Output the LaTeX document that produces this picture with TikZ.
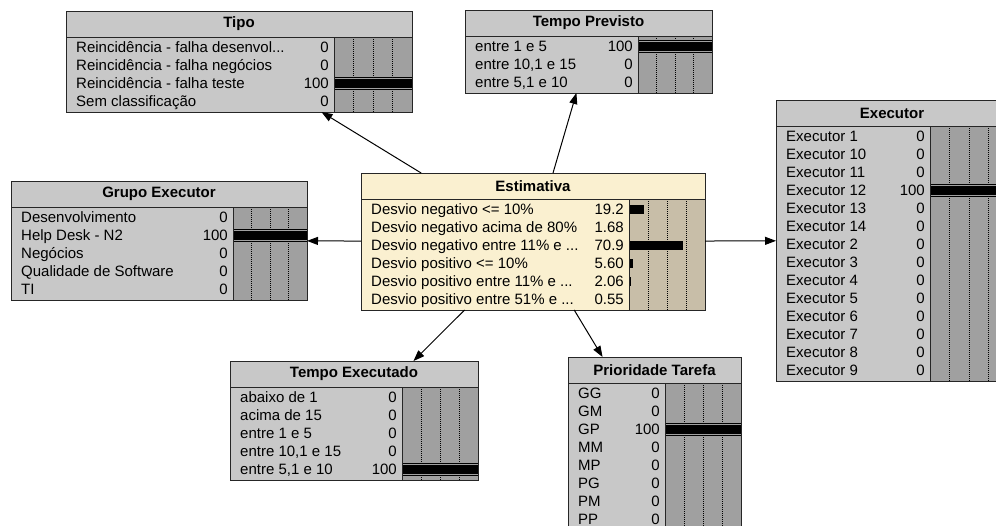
\documentclass[tikz,border=0pt]{standalone}
\usepackage{fontspec}
\setmainfont{Liberation Sans}
\usetikzlibrary{arrows.meta}
\definecolor{greybox}{RGB}{200,200,200}
\definecolor{greybar}{RGB}{160,160,160}
\definecolor{creambox}{RGB}{250,240,208}
\definecolor{creambar}{RGB}{200,190,168}
\tikzstyle{arrow} = [line width=1pt, -{Triangle[length=11pt,width=8pt]}]
\tikzset{
  netbox/.style={draw=black!85, line width=1pt, inner sep=0pt, outer sep=0pt},
  frame/.style={draw=black!85, line width=1pt},
  rowtext/.style={anchor=base west, inner sep=0pt, font=\fontsize{15}{18}\selectfont},
  rowval/.style={anchor=base east, inner sep=0pt, font=\fontsize{15}{18}\selectfont},
  boxtitle/.style={inner sep=0pt, font=\bfseries\fontsize{15}{18}\selectfont},
  gridline/.style={black, line width=0.6pt, dash pattern=on 1pt off 1pt},
}

% #1 name, #2 palette, #3 left, #4 top, #5 right, #6 divider, #7 rows, #8 title, #9 states
\newcommand{\netnode}[9]{
  \pgfmathsetmacro{\boxbot}{#4+29+18*#7}
  \pgfmathsetmacro{\boxw}{#5-#3}
  \pgfmathsetmacro{\boxh}{\boxbot-#4}
  \node[netbox, fill=#2box, minimum width=\boxw pt, minimum height=\boxh pt]
    (#1) at ({(#3+#5)/2},{(#4+\boxbot)/2}) {};
  \fill[#2bar] (#6,#4+26) rectangle (#5,\boxbot);
  \foreach \gl in {1,2,3}
    \draw[gridline] ({#6+\gl*(#5-#6)/4},#4+26) -- ({#6+\gl*(#5-#6)/4},\boxbot);
  \foreach \stname/\stval/\stpct [count=\i] in {#9} {
    \pgfmathsetmacro{\yc}{#4+26+18*(\i-0.5)+1}
    \node[rowtext] at (#3+10,\yc+5) {\stname};
    \node[rowval] at (#6-5,\yc+5) {\stval};
    \pgfmathparse{int(\stpct>99)}
    \ifnum\pgfmathresult=1
      \fill (#6,\yc-6.5) rectangle (#5,\yc+6.5);
      \fill[#2bar] (#6,\yc-5.5) rectangle (#5,\yc+5.5);
    \fi
    \pgfmathparse{int(\stpct>0)}
    \ifnum\pgfmathresult=1
      \fill (#6,\yc-4.5) rectangle ({#6+\stpct*(#5-#6)/100},\yc+4.5);
    \fi
  }
  \draw[frame] (#3,#4+26) -- (#5,#4+26);
  \draw[frame] (#6,#4+26) -- (#6,\boxbot);
  \draw[frame] (#1.north west) rectangle (#1.south east);
  \node[boxtitle] at ({(#3+#5)/2},#4+13) {#8};
}

\begin{document}
\begin{tikzpicture}[x=1pt, y=-1pt]
  \useasboundingbox[fill=white] (0,0) rectangle (996,525);
  \clip (0,0) rectangle (996,525);

  % Nodes
  \netnode{tipo}{grey}{66}{11}{412}{334}{4}{Tipo}{
    Reincidência - falha desenvol{...}/0/0,
    Reincidência - falha negócios/0/0,
    Reincidência - falha teste/100/100,
    Sem classificação/0/0}
  \netnode{previsto}{grey}{465}{10}{712}{638}{3}{Tempo Previsto}{
    entre 1 e 5/100/100,
    entre 10{,}1 e 15/0/0,
    entre 5{,}1 e 10/0/0}
  \netnode{grupo}{grey}{11}{181}{307}{233}{5}{Grupo Executor}{
    Desenvolvimento/0/0,
    Help Desk - N2/100/100,
    Negócios/0/0,
    Qualidade de Software/0/0,
    TI/0/0}
  \netnode{est}{cream}{361}{173}{705}{629}{6}{Estimativa}{
    Desvio negativo <= 10\%/19.2/19.2,
    Desvio negativo acima de 80\%/1.68/1.68,
    Desvio negativo entre 11\% e {...}/70.9/70.9,
    Desvio positivo <= 10\%/5.60/5.60,
    Desvio positivo entre 11\% e {...}/2.06/2.06,
    Desvio positivo entre 51\% e {...}/0.55/0.55}
  \netnode{executor}{grey}{776}{100}{1008}{930}{14}{Executor}{
    Executor 1/0/0, Executor 10/0/0, Executor 11/0/0, Executor 12/100/100,
    Executor 13/0/0, Executor 14/0/0, Executor 2/0/0, Executor 3/0/0,
    Executor 4/0/0, Executor 5/0/0, Executor 6/0/0, Executor 7/0/0,
    Executor 8/0/0, Executor 9/0/0}
  \netnode{executado}{grey}{230}{361}{478}{402}{5}{Tempo Executado}{
    abaixo de 1/0/0,
    acima de 15/0/0,
    entre 1 e 5/0/0,
    entre 10{,}1 e 15/0/0,
    entre 5{,}1 e 10/100/100}
  \netnode{prioridade}{grey}{568}{357}{741}{665}{8}{Prioridade Tarefa}{
    GG/0/0, GM/0/0, GP/100/100, MM/0/0,
    MP/0/0, PG/0/0, PM/0/0, PP/0/0}

  % Edges
  \draw[arrow] (est) -- (tipo);
  \draw[arrow] (est) -- (previsto);
  \draw[arrow] (est) -- (grupo);
  \draw[arrow] (est) -- (executor);
  \draw[arrow] (est) -- (executado);
  \draw[arrow] (est) -- (prioridade);
\end{tikzpicture}
\end{document}
